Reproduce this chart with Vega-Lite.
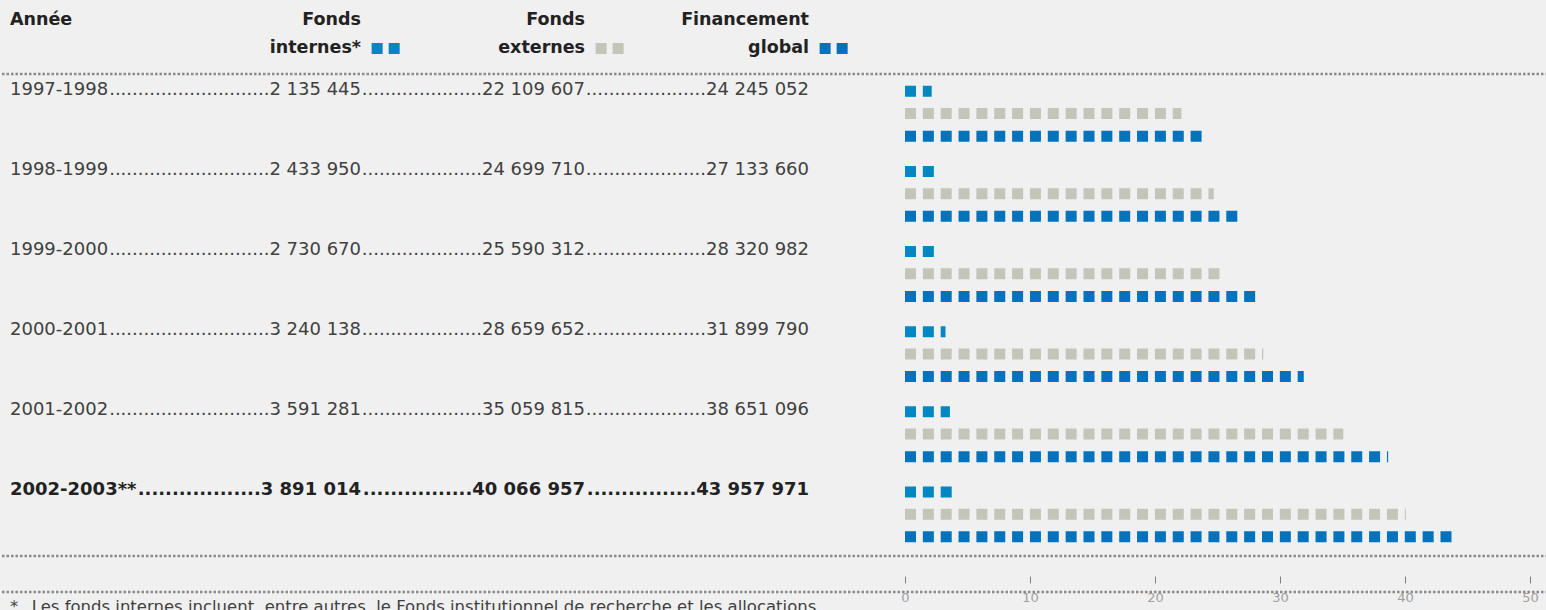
{
  "$schema": "https://vega.github.io/schema/vega-lite/v6.json",
  "width": 1546,
  "height": 641,
  "padding": 0,
  "background": "#f0f0f0",
  "config": {
    "view": {"stroke": null},
    "text": {"font": "DejaVu Sans"}
  },
  "datasets": {
    "fin": [
      {"annee": "1997-1998", "internes": 2135445, "externes": 22109607, "global": 24245052},
      {"annee": "1998-1999", "internes": 2433950, "externes": 24699710, "global": 27133660},
      {"annee": "1999-2000", "internes": 2730670, "externes": 25590312, "global": 28320982},
      {"annee": "2000-2001", "internes": 3240138, "externes": 28659652, "global": 31899790},
      {"annee": "2001-2002", "internes": 3591281, "externes": 35059815, "global": 38651096},
      {"annee": "2002-2003**", "internes": 3891014, "externes": 40066957, "global": 43957971}
    ],
    "entetes": [
      {"col": "annee", "l1": "Année", "l2": ""},
      {"col": "internes", "l1": "Fonds", "l2": "internes*"},
      {"col": "externes", "l1": "Fonds", "l2": "externes"},
      {"col": "global", "l1": "Financement", "l2": "global"}
    ],
    "notes": [
      {"note": "*\u2002 Les fonds internes incluent, entre autres, le Fonds institutionnel de recherche et les allocations"}
    ]
  },
  "resolve": {"scale": {"x": "independent"}},
  "layer": [
    {
      "layer": [
        {
          "data": {"name": "entetes"},
          "transform": [{"filter": "datum.col === 'annee'"}],
          "mark": {"type": "text", "align": "left", "baseline": "middle", "fontWeight": "bold", "fontSize": 17.5, "color": "#222222"},
          "encoding": {
            "x": {"field": "col", "type": "nominal", "bandPosition": 0, "scale": {"type": "band", "domain": ["annee", "internes", "externes", "global"], "range": [8, 807], "paddingInner": 0.433, "paddingOuter": 0}, "axis": null},
            "y": {"datum": "entete", "type": "nominal", "bandPosition": 0.25, "scale": {"type": "band", "domain": ["entete", "1997-1998", "1998-1999", "1999-2000", "2000-2001", "2001-2002", "2002-2003**", "pied"], "paddingInner": 0, "paddingOuter": 0}, "axis": null},
            "text": {"field": "l1"}
          }
        },
        {
          "data": {"name": "entetes"},
          "transform": [{"filter": "datum.col !== 'annee'"}],
          "mark": {"type": "text", "align": "right", "baseline": "middle", "fontWeight": "bold", "fontSize": 17.5, "color": "#222222"},
          "encoding": {
            "x": {"field": "col", "type": "nominal", "bandPosition": 1, "scale": {"type": "band", "domain": ["annee", "internes", "externes", "global"], "range": [8, 807], "paddingInner": 0.433, "paddingOuter": 0}, "axis": null},
            "y": {"datum": "entete", "type": "nominal", "bandPosition": 0.25, "scale": {"type": "band", "domain": ["entete", "1997-1998", "1998-1999", "1999-2000", "2000-2001", "2001-2002", "2002-2003**", "pied"], "paddingInner": 0, "paddingOuter": 0}, "axis": null},
            "text": {"field": "l1"}
          }
        },
        {
          "data": {"name": "entetes"},
          "transform": [{"filter": "datum.col !== 'annee'"}],
          "mark": {"type": "text", "align": "right", "baseline": "middle", "fontWeight": "bold", "fontSize": 17.5, "color": "#222222"},
          "encoding": {
            "x": {"field": "col", "type": "nominal", "bandPosition": 1, "scale": {"type": "band", "domain": ["annee", "internes", "externes", "global"], "range": [8, 807], "paddingInner": 0.433, "paddingOuter": 0}, "axis": null},
            "y": {"datum": "entete", "type": "nominal", "bandPosition": 0.605, "scale": {"type": "band", "domain": ["entete", "1997-1998", "1998-1999", "1999-2000", "2000-2001", "2001-2002", "2002-2003**", "pied"], "paddingInner": 0, "paddingOuter": 0}, "axis": null},
            "text": {"field": "l2"}
          }
        },
        {
          "data": {"name": "entetes"},
          "transform": [{"filter": "datum.col !== 'annee'"}],
          "mark": {"type": "point", "shape": "square", "filled": true, "size": 121, "opacity": 1, "strokeWidth": 0},
          "encoding": {
            "x": {"field": "col", "type": "nominal", "bandPosition": 1.127, "scale": {"type": "band", "domain": ["annee", "internes", "externes", "global"], "range": [8, 807], "paddingInner": 0.433, "paddingOuter": 0}, "axis": null},
            "y": {"datum": "entete", "type": "nominal", "bandPosition": 0.605, "scale": {"type": "band", "domain": ["entete", "1997-1998", "1998-1999", "1999-2000", "2000-2001", "2001-2002", "2002-2003**", "pied"], "paddingInner": 0, "paddingOuter": 0}, "axis": null},
            "color": {"field": "col", "type": "nominal", "scale": {"domain": ["internes", "externes", "global"], "range": ["#0086c0", "#c3c5b8", "#0073bc"]}, "legend": null}
          }
        },
        {
          "data": {"name": "entetes"},
          "transform": [{"filter": "datum.col !== 'annee'"}],
          "mark": {"type": "point", "shape": "square", "filled": true, "size": 121, "opacity": 1, "strokeWidth": 0},
          "encoding": {
            "x": {"field": "col", "type": "nominal", "bandPosition": 1.261, "scale": {"type": "band", "domain": ["annee", "internes", "externes", "global"], "range": [8, 807], "paddingInner": 0.433, "paddingOuter": 0}, "axis": null},
            "y": {"datum": "entete", "type": "nominal", "bandPosition": 0.605, "scale": {"type": "band", "domain": ["entete", "1997-1998", "1998-1999", "1999-2000", "2000-2001", "2001-2002", "2002-2003**", "pied"], "paddingInner": 0, "paddingOuter": 0}, "axis": null},
            "color": {"field": "col", "type": "nominal", "scale": {"domain": ["internes", "externes", "global"], "range": ["#0086c0", "#c3c5b8", "#0073bc"]}, "legend": null}
          }
        },
        {
          "data": {"name": "fin"},
          "transform": [{"filter": "datum.annee !== '2002-2003**'"}],
          "mark": {"type": "text", "align": "left", "baseline": "middle", "fontSize": 18, "color": "#404040"},
          "encoding": {
            "x": {"datum": "annee", "type": "nominal", "bandPosition": 0, "scale": {"type": "band", "domain": ["annee", "internes", "externes", "global"], "range": [8, 807], "paddingInner": 0.433, "paddingOuter": 0}, "axis": null},
            "y": {"field": "annee", "type": "nominal", "bandPosition": 0.12, "scale": {"type": "band", "domain": ["entete", "1997-1998", "1998-1999", "1999-2000", "2000-2001", "2001-2002", "2002-2003**", "pied"], "paddingInner": 0, "paddingOuter": 0}, "axis": null},
            "text": {"field": "annee"}
          }
        },
        {
          "data": {"name": "fin"},
          "transform": [{"filter": "datum.annee === '2002-2003**'"}],
          "mark": {"type": "text", "align": "left", "baseline": "middle", "fontSize": 18, "fontWeight": "bold", "color": "#222222"},
          "encoding": {
            "x": {"datum": "annee", "type": "nominal", "bandPosition": 0, "scale": {"type": "band", "domain": ["annee", "internes", "externes", "global"], "range": [8, 807], "paddingInner": 0.433, "paddingOuter": 0}, "axis": null},
            "y": {"field": "annee", "type": "nominal", "bandPosition": 0.12, "scale": {"type": "band", "domain": ["entete", "1997-1998", "1998-1999", "1999-2000", "2000-2001", "2001-2002", "2002-2003**", "pied"], "paddingInner": 0, "paddingOuter": 0}, "axis": null},
            "text": {"field": "annee"}
          }
        },
        {
          "data": {"name": "fin"},
          "transform": [
            {"filter": "datum.annee !== '2002-2003**'"},
            {"fold": ["internes", "externes", "global"], "as": ["serie", "valeur"]},
            {"calculate": "pad('', datum.serie === 'internes' ? 28 : 21, '.') + replace(format(datum.valeur, ','), regexp(',', 'g'), ' ')", "as": "etiquette"}
          ],
          "mark": {"type": "text", "align": "right", "baseline": "middle", "fontSize": 18, "color": "#404040"},
          "encoding": {
            "x": {"field": "serie", "type": "nominal", "bandPosition": 1, "scale": {"type": "band", "domain": ["annee", "internes", "externes", "global"], "range": [8, 807], "paddingInner": 0.433, "paddingOuter": 0}, "axis": null},
            "y": {"field": "annee", "type": "nominal", "bandPosition": 0.12, "scale": {"type": "band", "domain": ["entete", "1997-1998", "1998-1999", "1999-2000", "2000-2001", "2001-2002", "2002-2003**", "pied"], "paddingInner": 0, "paddingOuter": 0}, "axis": null},
            "text": {"field": "etiquette"}
          }
        },
        {
          "data": {"name": "fin"},
          "transform": [
            {"filter": "datum.annee === '2002-2003**'"},
            {"fold": ["internes", "externes", "global"], "as": ["serie", "valeur"]},
            {"calculate": "pad('', datum.serie === 'internes' ? 18 : 16, '.') + replace(format(datum.valeur, ','), regexp(',', 'g'), ' ')", "as": "etiquette"}
          ],
          "mark": {"type": "text", "align": "right", "baseline": "middle", "fontSize": 18, "fontWeight": "bold", "color": "#222222"},
          "encoding": {
            "x": {"field": "serie", "type": "nominal", "bandPosition": 1, "scale": {"type": "band", "domain": ["annee", "internes", "externes", "global"], "range": [8, 807], "paddingInner": 0.433, "paddingOuter": 0}, "axis": null},
            "y": {"field": "annee", "type": "nominal", "bandPosition": 0.12, "scale": {"type": "band", "domain": ["entete", "1997-1998", "1998-1999", "1999-2000", "2000-2001", "2001-2002", "2002-2003**", "pied"], "paddingInner": 0, "paddingOuter": 0}, "axis": null},
            "text": {"field": "etiquette"}
          }
        },
        {
          "data": {"name": "notes"},
          "mark": {"type": "text", "align": "left", "baseline": "middle", "fontSize": 16.5, "color": "#404040"},
          "encoding": {
            "x": {"datum": "annee", "type": "nominal", "bandPosition": 0, "scale": {"type": "band", "domain": ["annee", "internes", "externes", "global"], "range": [8, 807], "paddingInner": 0.433, "paddingOuter": 0}, "axis": null},
            "y": {"datum": "pied", "type": "nominal", "bandPosition": 0.58, "scale": {"type": "band", "domain": ["entete", "1997-1998", "1998-1999", "1999-2000", "2000-2001", "2001-2002", "2002-2003**", "pied"], "paddingInner": 0, "paddingOuter": 0}, "axis": null},
            "text": {"field": "note"}
          }
        }
      ]
    },
    {
      "layer": [
        {
          "data": {"name": "fin"},
          "transform": [
            {"fold": ["internes", "externes", "global"], "as": ["serie", "valeur"]},
            {"filter": "datum.serie === 'internes'"},
            {"calculate": "datum.valeur / 1000000", "as": "millions"},
            {"calculate": "0", "as": "debut"}
          ],
          "mark": {"type": "rule", "strokeWidth": 11, "strokeDash": [11, 6.85], "strokeCap": "butt"},
          "encoding": {
            "x": {"field": "debut", "type": "quantitative", "scale": {"domain": [-72.24, 51.44], "nice": false, "zero": false}, "axis": {"orient": "bottom", "values": [0, 10, 20, 30, 40, 50], "offset": -58, "domain": false, "grid": false, "tickSize": -7, "tickColor": "#808080", "tickWidth": 1, "labelColor": "#a0a0a0", "labelFont": "DejaVu Sans", "labelFontSize": 13, "labelPadding": 15, "title": null}},
            "x2": {"field": "millions"},
            "y": {"field": "annee", "type": "nominal", "bandPosition": 0.14, "scale": {"type": "band", "domain": ["entete", "1997-1998", "1998-1999", "1999-2000", "2000-2001", "2001-2002", "2002-2003**", "pied"], "paddingInner": 0, "paddingOuter": 0}, "axis": null},
            "color": {"field": "serie", "type": "nominal", "scale": {"domain": ["internes", "externes", "global"], "range": ["#0086c0", "#c3c5b8", "#0073bc"]}, "legend": null}
          }
        },
        {
          "data": {"name": "fin"},
          "transform": [
            {"fold": ["internes", "externes", "global"], "as": ["serie", "valeur"]},
            {"filter": "datum.serie === 'externes'"},
            {"calculate": "datum.valeur / 1000000", "as": "millions"},
            {"calculate": "0", "as": "debut"}
          ],
          "mark": {"type": "rule", "strokeWidth": 11, "strokeDash": [11, 6.85], "strokeCap": "butt"},
          "encoding": {
            "x": {"field": "debut", "type": "quantitative", "scale": {"domain": [-72.24, 51.44], "nice": false, "zero": false}},
            "x2": {"field": "millions"},
            "y": {"field": "annee", "type": "nominal", "bandPosition": 0.418, "scale": {"type": "band", "domain": ["entete", "1997-1998", "1998-1999", "1999-2000", "2000-2001", "2001-2002", "2002-2003**", "pied"], "paddingInner": 0, "paddingOuter": 0}, "axis": null},
            "color": {"field": "serie", "type": "nominal", "scale": {"domain": ["internes", "externes", "global"], "range": ["#0086c0", "#c3c5b8", "#0073bc"]}, "legend": null}
          }
        },
        {
          "data": {"name": "fin"},
          "transform": [
            {"fold": ["internes", "externes", "global"], "as": ["serie", "valeur"]},
            {"filter": "datum.serie === 'global'"},
            {"calculate": "datum.valeur / 1000000", "as": "millions"},
            {"calculate": "0", "as": "debut"}
          ],
          "mark": {"type": "rule", "strokeWidth": 11, "strokeDash": [11, 6.85], "strokeCap": "butt"},
          "encoding": {
            "x": {"field": "debut", "type": "quantitative", "scale": {"domain": [-72.24, 51.44], "nice": false, "zero": false}},
            "x2": {"field": "millions"},
            "y": {"field": "annee", "type": "nominal", "bandPosition": 0.699, "scale": {"type": "band", "domain": ["entete", "1997-1998", "1998-1999", "1999-2000", "2000-2001", "2001-2002", "2002-2003**", "pied"], "paddingInner": 0, "paddingOuter": 0}, "axis": null},
            "color": {"field": "serie", "type": "nominal", "scale": {"domain": ["internes", "externes", "global"], "range": ["#0086c0", "#c3c5b8", "#0073bc"]}, "legend": null}
          }
        },
        {
          "data": {"values": [{}]},
          "mark": {"type": "rule", "strokeWidth": 2.5, "strokeDash": [2.5, 2], "color": "#8a8a8a"},
          "encoding": {
            "y": {"datum": "entete", "type": "nominal", "bandPosition": 0.924, "scale": {"type": "band", "domain": ["entete", "1997-1998", "1998-1999", "1999-2000", "2000-2001", "2001-2002", "2002-2003**", "pied"], "paddingInner": 0, "paddingOuter": 0}, "axis": null}
          }
        },
        {
          "data": {"values": [{}]},
          "mark": {"type": "rule", "strokeWidth": 2.5, "strokeDash": [2.5, 2], "color": "#8a8a8a"},
          "encoding": {
            "y": {"datum": "2002-2003**", "type": "nominal", "bandPosition": 0.94, "scale": {"type": "band", "domain": ["entete", "1997-1998", "1998-1999", "1999-2000", "2000-2001", "2001-2002", "2002-2003**", "pied"], "paddingInner": 0, "paddingOuter": 0}, "axis": null}
          }
        },
        {
          "data": {"values": [{}]},
          "mark": {"type": "rule", "strokeWidth": 2.5, "strokeDash": [2.5, 2], "color": "#8a8a8a"},
          "encoding": {
            "y": {"datum": "pied", "type": "nominal", "bandPosition": 0.388, "scale": {"type": "band", "domain": ["entete", "1997-1998", "1998-1999", "1999-2000", "2000-2001", "2001-2002", "2002-2003**", "pied"], "paddingInner": 0, "paddingOuter": 0}, "axis": null}
          }
        }
      ]
    }
  ]
}
